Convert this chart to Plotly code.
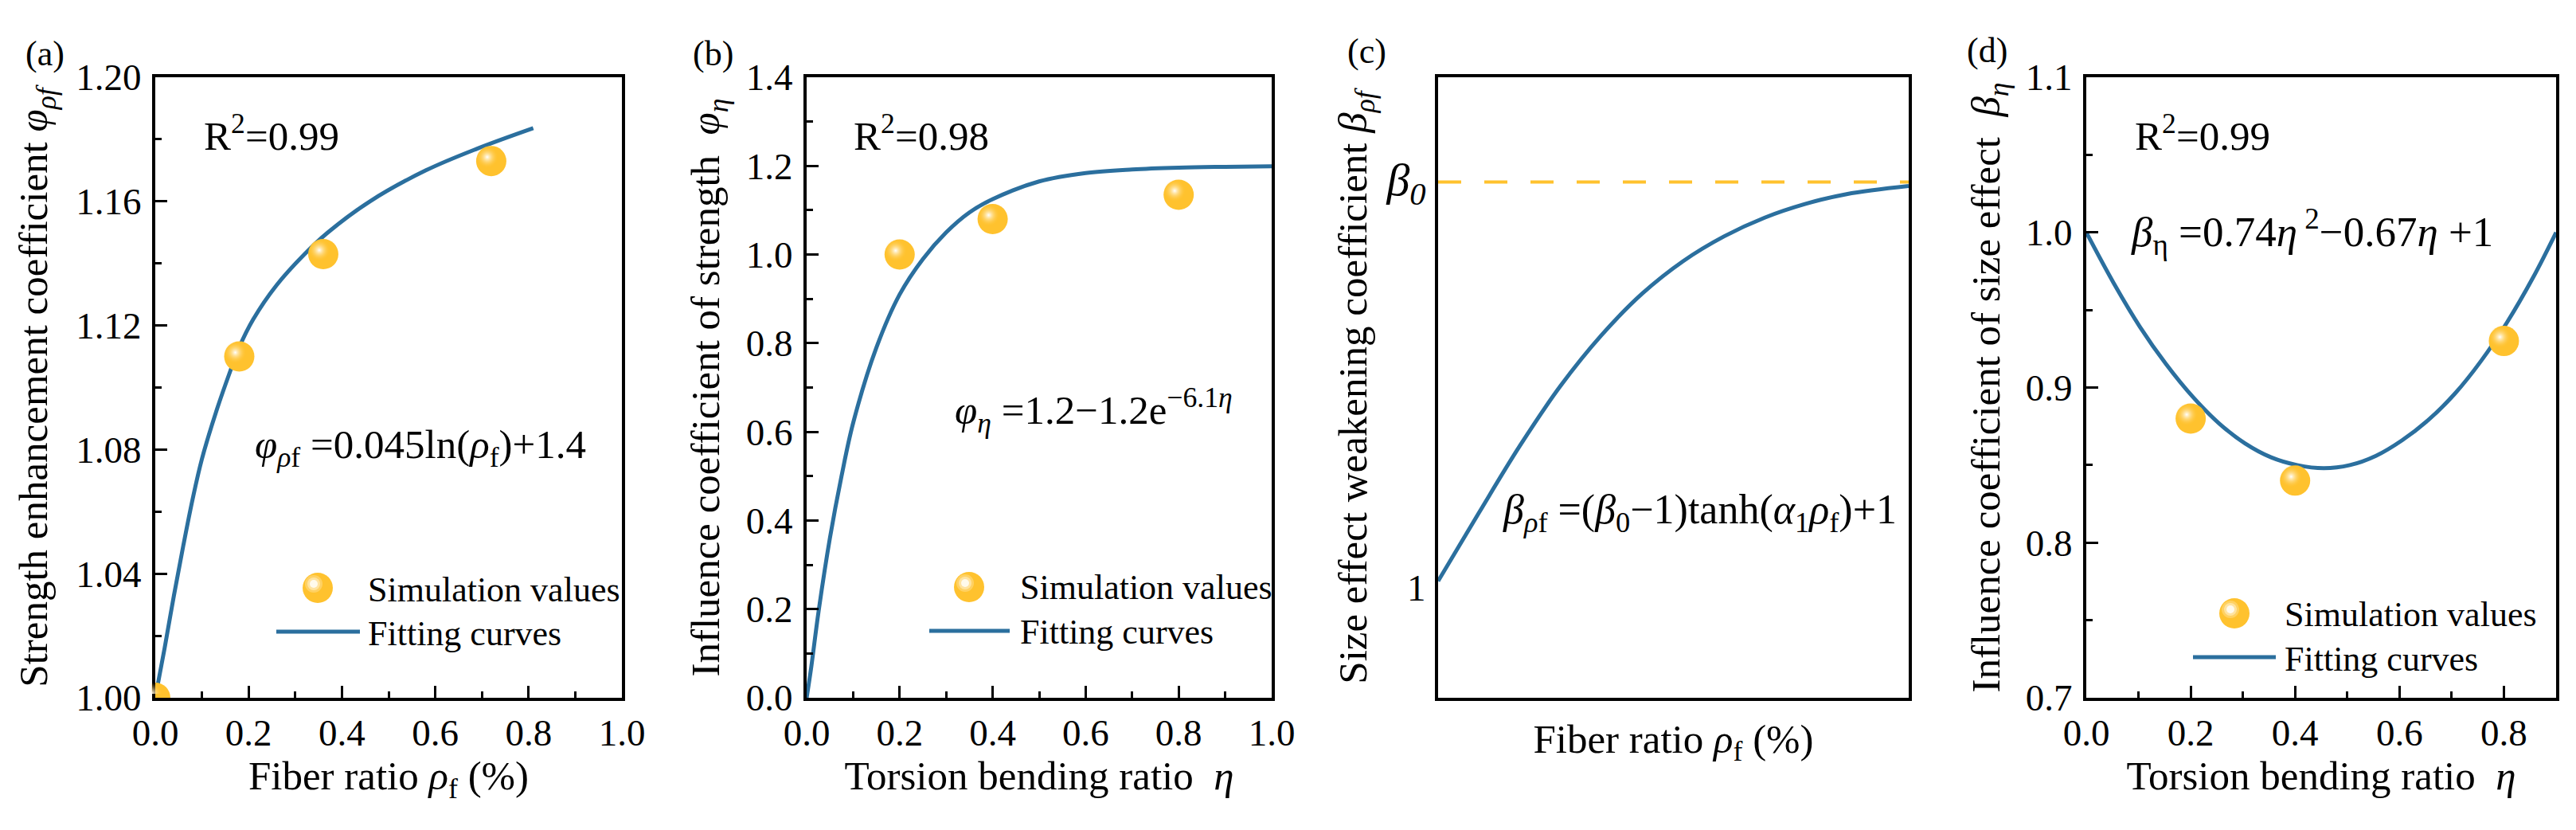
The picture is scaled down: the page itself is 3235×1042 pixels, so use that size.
import plotly.graph_objects as go

W, H = 3235, 1042
FONT = "Liberation Serif"
BLUE = "#2B6F9E"
GOLD = "#FFC22E"

# panel (a)
a_sim_x = [0.0, 0.18, 0.36, 0.72]
a_sim_y = [1.0, 1.11, 1.143, 1.173]
a_fit_x = [0.0, 0.01, 0.02, 0.04, 0.06, 0.08, 0.10, 0.13, 0.16, 0.18, 0.21, 0.26, 0.32, 0.37, 0.46, 0.58, 0.69, 0.81]
a_fit_y = [1.0, 1.008, 1.016, 1.033, 1.049, 1.064, 1.077, 1.092, 1.105, 1.113, 1.122, 1.133, 1.143, 1.150, 1.160, 1.170, 1.177, 1.1836]
a_xticks = [0.0, 0.2, 0.4, 0.6, 0.8, 1.0]
a_xminor = [0.1, 0.3, 0.5, 0.7, 0.9]
a_yticks = [1.0, 1.04, 1.08, 1.12, 1.16, 1.2]
a_yminor = [1.02, 1.06, 1.1, 1.14, 1.18]
a_yticktext = ["1.00", "1.04", "1.08", "1.12", "1.16", "1.20"]

# panel (b)
b_sim_x = [0.2, 0.4, 0.8]
b_sim_y = [1.0, 1.08, 1.135]
b_fit_x = [0.0, 0.01, 0.025, 0.05, 0.075, 0.1, 0.15, 0.2, 0.25, 0.3, 0.35, 0.4, 0.5, 0.6, 0.7, 0.8, 0.9, 1.0]
b_fit_y = [0.0, 0.07, 0.19, 0.36, 0.50, 0.62, 0.79, 0.91, 0.99, 1.05, 1.095, 1.125, 1.165, 1.184, 1.192, 1.196, 1.198, 1.199]
b_xticks = [0.0, 0.2, 0.4, 0.6, 0.8, 1.0]
b_xminor = [0.1, 0.3, 0.5, 0.7, 0.9]
b_yticks = [0.0, 0.2, 0.4, 0.6, 0.8, 1.0, 1.2, 1.4]
b_yminor = [0.1, 0.3, 0.5, 0.7, 0.9, 1.1, 1.3]

# panel (c), the y axis only has the two labelled levels
c_fit_x = [0.0, 0.087, 0.174, 0.26, 0.347, 0.434, 0.521, 0.608, 0.694, 0.781, 0.868, 1.0]
c_fit_y = [1.016, 1.185, 1.35, 1.497, 1.622, 1.725, 1.805, 1.866, 1.912, 1.946, 1.97, 1.99]
c_limit_x = [0.0, 1.0]
c_limit_y = [2.0, 2.0]
c_yticks = [1.0, 2.0]
c_yticktext = ["1", "<span style='font-size:58px'><i>β<sub>0</sub></i></span>"]

# panel (d)
d_sim_x = [0.2, 0.4, 0.8]
d_sim_y = [0.88, 0.84, 0.93]
d_fit_x = [0.0, 0.053, 0.103, 0.153, 0.204, 0.254, 0.304, 0.354, 0.404, 0.455, 0.505, 0.555, 0.605, 0.655, 0.706, 0.756, 0.806, 0.856, 0.9]
d_fit_y = [1.0, 0.967, 0.939, 0.915, 0.894, 0.877, 0.864, 0.855, 0.85, 0.848, 0.85, 0.856, 0.866, 0.879, 0.896, 0.917, 0.942, 0.971, 1.0]
d_xticks = [0.0, 0.2, 0.4, 0.6, 0.8]
d_xminor = [0.1, 0.3, 0.5, 0.7]
d_yticks = [0.7, 0.8, 0.9, 1.0, 1.1]
d_yminor = [0.75, 0.85, 0.95, 1.05]


def px(x):
    return x / W


def py(y):
    return 1 - y / H


fig = go.Figure()
shapes = []
notes = []


def axis_style(box, ticks, minor, rng, title, standoff, anchor, ticktext=None, labelgap=4):
    ax = dict(
        domain=box, range=rng, showgrid=False, zeroline=False, anchor=anchor,
        showline=True, linecolor="black", linewidth=4, mirror=True,
        title=dict(text=title, standoff=standoff, font=dict(size=51)),
        tickfont=dict(size=47), automargin=False,
    )
    if ticks is None:
        ax.update(ticks="", tickvals=[], showticklabels=False)
    else:
        ax.update(ticks="inside", ticklen=15, tickwidth=3, tickcolor="black",
                  tickvals=ticks, ticklabelstandoff=labelgap)
        if ticktext is not None:
            ax["ticktext"] = ticktext
        else:
            ax["ticktext"] = ["%.1f" % t for t in ticks]
        if minor:
            ax["minor"] = dict(ticks="inside", ticklen=8, tickwidth=3,
                               tickcolor="black", tickvals=minor)
    return ax


def add_panel(n, xbox, ybox, xa, ya, fit_x, fit_y, sim_x=None, sim_y=None):
    fig.update_layout({"xaxis%d" % n: xa, "yaxis%d" % n: ya})
    fig.add_trace(go.Scatter(
        x=fit_x, y=fit_y, mode="lines", name="Fitting curves",
        line=dict(color=BLUE, width=5, shape="spline", smoothing=1.0),
        xaxis="x%d" % n, yaxis="y%d" % n, showlegend=False))
    if sim_x is None:
        return
    fig.add_trace(go.Scatter(
        x=sim_x, y=sim_y, mode="markers", name="Simulation values",
        marker=dict(color=GOLD, size=38, line=dict(width=0)),
        xaxis="x%d" % n, yaxis="y%d" % n, showlegend=False))
    # same data on a hidden axis pair nudged up-left, for the shine on the balls
    m = n + 4
    fig.update_layout({
        "xaxis%d" % m: dict(domain=[xbox[0] - 5 / W, xbox[1] - 5 / W], range=xa["range"],
                            visible=False, anchor="y%d" % m),
        "yaxis%d" % m: dict(domain=[ybox[0] + 5 / H, ybox[1] + 5 / H], range=ya["range"],
                            visible=False, anchor="x%d" % m),
    })
    fig.add_trace(go.Scatter(
        x=sim_x, y=sim_y, mode="markers", name="shine", hoverinfo="skip",
        marker=dict(color="rgba(255,194,46,0)", size=28, line=dict(width=0),
                    gradient=dict(type="radial", color="rgba(255,255,255,1)")),
        xaxis="x%d" % m, yaxis="y%d" % m, showlegend=False))


def text(x, y, s, size=51):
    notes.append(dict(xref="paper", yref="paper", x=px(x), y=py(y), text=s, showarrow=False,
                      xanchor="left", yanchor="middle", font=dict(size=size)))


def legend_key(ball_x, ball_y, x0, x1, line_y, text_x, text_y0, text_y1):
    r = 19
    shapes.append(dict(type="circle", xref="paper", yref="paper", fillcolor=GOLD, line_width=0,
                       x0=px(ball_x - r), x1=px(ball_x + r), y0=py(ball_y + r), y1=py(ball_y - r)))
    for rad, col in [(11, "rgba(255,255,255,0.25)"), (8, "rgba(255,255,255,0.4)"), (5, "rgba(255,255,255,0.8)")]:
        shapes.append(dict(type="circle", xref="paper", yref="paper", fillcolor=col, line_width=0,
                           x0=px(ball_x - 5 - rad), x1=px(ball_x - 5 + rad),
                           y0=py(ball_y - 5 + rad), y1=py(ball_y - 5 - rad)))
    shapes.append(dict(type="line", xref="paper", yref="paper", line=dict(color=BLUE, width=5),
                       x0=px(x0), x1=px(x1), y0=py(line_y), y1=py(line_y)))
    text(text_x, text_y0, "Simulation values", 44)
    text(text_x, text_y1, "Fitting curves", 44)


ytop, ybot = py(876), py(97)
boxes = {1: (195, 781), 2: (1013, 1597), 3: (1806, 2397), 4: (2620, 3210)}


def xbox(n):
    return [px(boxes[n][0]), px(boxes[n][1])]


ybox = [ytop, ybot]

add_panel(1, xbox(1), ybox,
          axis_style(xbox(1), a_xticks, a_xminor, [0, 1], "Fiber ratio <i>ρ</i><sub>f</sub> (%)", 2, "y1", labelgap=0),
          axis_style(ybox, a_yticks, a_yminor, [1, 1.2],
                     "Strength enhancement coefficient <i>φ<sub>ρ</sub></i><sub><i>f</i></sub>\u00a0", 20, "x1", a_yticktext),
          a_fit_x, a_fit_y, a_sim_x, a_sim_y)
add_panel(2, xbox(2), ybox,
          axis_style(xbox(2), b_xticks, b_xminor, [0, 1], "Torsion bending ratio  <i>η</i>", 2, "y2", labelgap=0),
          axis_style(ybox, b_yticks, b_yminor, [0, 1.4],
                     "Influence coefficient of strength  <i>φ<sub>η</sub></i>", 18, "x2"),
          b_fit_x, b_fit_y, b_sim_x, b_sim_y)
add_panel(3, xbox(3), ybox,
          axis_style(xbox(3), None, None, [0, 1], "Fiber ratio <i>ρ</i><sub>f</sub> (%)", 31, "y3"),
          axis_style(ybox, c_yticks, None, [0.7285, 2.258],
                     "Size effect weakening coefficient <i>β<sub>ρ</sub></i><sub><i>f</i></sub>", 9, "x3", c_yticktext, labelgap=2),
          c_fit_x, c_fit_y)
fig.update_layout(yaxis3=dict(ticks="", ticklen=0))
fig.add_trace(go.Scatter(x=c_limit_x, y=c_limit_y, mode="lines", name="limit",
                         line=dict(color=GOLD, width=4, dash="29px,29px"),
                         xaxis="x3", yaxis="y3", showlegend=False))
add_panel(4, xbox(4), ybox,
          axis_style(xbox(4), d_xticks, d_xminor, [0, 0.9], "Torsion bending ratio  <i>η</i>", 2, "y4", labelgap=0),
          axis_style(ybox, d_yticks, d_yminor, [0.7, 1.1],
                     "Influence coefficient of size effect  <i>β<sub>η</sub></i>", 17, "x4"),
          d_fit_x, d_fit_y, d_sim_x, d_sim_y)

text(30, 67, "(a)", 44)
text(868, 67, "(b)", 44)
text(1690, 65, "(c)", 44)
text(2468, 63, "(d)", 44)
text(254, 167, "R<sup>2</sup>=0.99")
text(1070, 167, "R<sup>2</sup>=0.98")
text(2679, 167, "R<sup>2</sup>=0.99")
text(318, 562, "<i>φ<sub>ρ</sub></i><sub>f</sub> =0.045ln(<i>ρ</i><sub>f</sub>)+1.4")
text(1197, 515, "<i>φ<sub>η</sub></i> =1.2−1.2e<sup>−6.1<i>η</i></sup>")
text(1885, 643, "<i>β<sub>ρ</sub></i><sub>f</sub> =(<i>β</i><sub>0</sub>−1)tanh(<i>α</i><sub>1</sub><i>ρ</i><sub>f</sub>)+1", 52)
text(2674, 291, "<i>β</i><sub>η</sub> =0.74<i>η</i><sup> 2</sup>−0.67<i>η</i> +1", 53)

legend_key(399, 738, 347, 452, 793, 460, 740, 795)
legend_key(1217, 737, 1167, 1268, 792, 1279, 737, 793)
legend_key(2806, 770, 2754, 2858, 825, 2867, 771, 827)

fig.update_layout(
    width=W, height=H, margin=dict(l=0, r=0, t=0, b=0),
    paper_bgcolor="white", plot_bgcolor="rgba(0,0,0,0)",
    font=dict(family=FONT, color="black", size=47),
    showlegend=False, shapes=shapes, annotations=notes,
)

fig.write_html("out.html", config=dict(displayModeBar=False),
               post_script="document.body.style.margin='0';")
